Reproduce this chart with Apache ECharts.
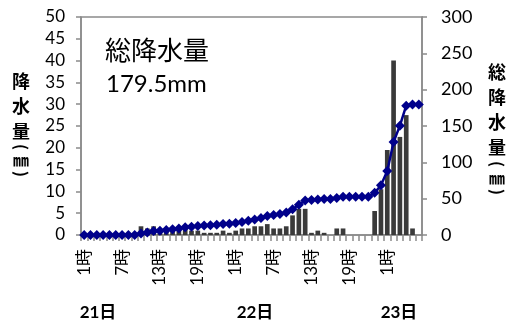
<!DOCTYPE html>
<html>
<head>
<meta charset="utf-8">
<script src="https://cdn.jsdelivr.net/npm/echarts/dist/echarts.min.js"></script>
<style>
  html, body { margin: 0; padding: 0; background: #fff; }
  #chart { width: 513px; height: 329px; }
</style>
</head>
<body>
<div id="chart"></div>
<script>
// Days shown on the time axis and how many hourly slots each one has
const days = ['21日', '22日', '23日'];
const hoursPerDay = [24, 24, 6];

// Hourly rainfall (mm), left axis
const hourlyRain = [
  0, 0, 0, 0, 0, 0, 0, 0, 0, 2.0, 1.5, 2.0, 0.5, 1.0, 1.0, 1.0, 1.5, 1.0, 1.0, 0.5, 0.5, 0.5, 1.0, 0.5,
  1.0, 1.5, 1.5, 2.0, 2.0, 2.5, 1.5, 1.5, 2.0, 4.5, 6.0, 6.0, 0.5, 1.0, 0.5, 0, 1.5, 1.5, 0, 0, 0, 0, 5.5, 10.5,
  19.5, 40.0, 22.5, 27.5, 1.5, 0
];

// Accumulated rainfall (mm), right axis
const totalRain = [
  0, 0, 0, 0, 0, 0, 0, 0, 0, 2.0, 3.5, 5.5, 6.0, 7.0, 8.0, 9.0, 10.5, 11.5, 12.5, 13.0, 13.5, 14.0, 15.0, 15.5,
  16.5, 18.0, 19.5, 21.5, 23.5, 26.0, 27.5, 29.0, 31.0, 35.5, 41.5, 47.5, 48.0, 49.0, 49.5, 49.5, 51.0, 52.5, 52.5, 52.5, 52.5, 52.5, 58.0, 68.5,
  88.0, 128.0, 150.5, 178.0, 179.5, 179.5
];

const leftTicks = [0, 5, 10, 15, 20, 25, 30, 35, 40, 45, 50];
const rightTicks = [0, 50, 100, 150, 200, 250, 300];

const totalLabel = '総降水量';
const totalValue = '179.5mm';

// Hour labels "1時" … for every slot
const hourLabels = [];
hoursPerDay.forEach(function (n) {
  for (let h = 1; h <= n; h++) hourLabels.push(h + '時');
});

const FONT = "Lato, 'Noto Sans CJK JP', sans-serif";
const JP = "'Noto Sans CJK JP', sans-serif";
const AXIS_GREY = '#8a8a8a';

const chart = echarts.init(document.getElementById('chart'), null, { renderer: 'canvas' });

// Vertical axis titles, one glyph per element
function verticalTitle(x, items) {
  return items.map(function (it) {
    return {
      type: 'text',
      x: x,
      y: it.y,
      rotation: it.rot || 0,
      style: {
        text: it.t,
        font: 'bold ' + (it.size || 18) + 'px ' + JP,
        fill: '#000',
        align: 'center',
        verticalAlign: 'middle'
      }
    };
  });
}

const leftTitle = verticalTitle(21, [
  { t: '降', y: 81 },
  { t: '水', y: 106 },
  { t: '量', y: 131 },
  { t: '(', y: 147, rot: -Math.PI / 2, size: 16 },
  { t: '㎜', y: 160, size: 16 },
  { t: ')', y: 174, rot: -Math.PI / 2, size: 16 }
]);

const rightTitle = verticalTitle(497, [
  { t: '総', y: 72 },
  { t: '降', y: 97 },
  { t: '水', y: 122 },
  { t: '量', y: 147 },
  { t: '(', y: 164, rot: -Math.PI / 2, size: 16 },
  { t: '㎜', y: 178, size: 16 },
  { t: ')', y: 192, rot: -Math.PI / 2, size: 16 }
]);

const dayX = [98, 255, 399];
const dayLabels = days.map(function (d, i) {
  return {
    type: 'text',
    x: dayX[i],
    y: 313,
    style: {
      text: d,
      font: 'bold 17px ' + FONT,
      fill: '#000',
      align: 'center',
      verticalAlign: 'middle'
    }
  };
});

const option = {
  animation: false,
  backgroundColor: '#fff',
  grid: {
    left: 81,
    right: 91,
    top: 17,
    bottom: 94,
    show: true,
    borderColor: AXIS_GREY,
    borderWidth: 1.5,
    containLabel: false
  },
  xAxis: {
    type: 'category',
    data: hourLabels,
    boundaryGap: true,
    axisLine: { show: true, lineStyle: { color: AXIS_GREY, width: 1.5 } },
    axisTick: { show: true, interval: 0, length: 6, lineStyle: { color: AXIS_GREY, width: 1.5 } },
    axisLabel: {
      interval: 5,
      rotate: 90,
      margin: 14,
      color: '#000',
      fontSize: 17,
      fontFamily: FONT,
      hideOverlap: false
    },
    splitLine: { show: false }
  },
  yAxis: [
    {
      type: 'value',
      min: leftTicks[0],
      max: leftTicks[leftTicks.length - 1],
      interval: leftTicks[1] - leftTicks[0],
      axisLine: { show: true, lineStyle: { color: AXIS_GREY, width: 1.5 } },
      axisTick: { show: true, length: 5, lineStyle: { color: AXIS_GREY, width: 1.5 } },
      axisLabel: { margin: 16, color: '#000', fontSize: 17, fontFamily: FONT },
      splitLine: { show: false }
    },
    {
      type: 'value',
      position: 'right',
      min: rightTicks[0],
      max: rightTicks[rightTicks.length - 1],
      interval: rightTicks[1] - rightTicks[0],
      axisLine: { show: true, lineStyle: { color: AXIS_GREY, width: 1.5 } },
      axisTick: { show: true, length: 5, lineStyle: { color: AXIS_GREY, width: 1.5 } },
      axisLabel: { margin: 19, color: '#000', fontSize: 18, fontFamily: FONT },
      splitLine: { show: false }
    }
  ],
  series: [
    {
      name: '降水量',
      type: 'bar',
      yAxisIndex: 0,
      data: hourlyRain,
      barCategoryGap: '26%',
      itemStyle: { color: '#3a3a3a' },
      z: 2
    },
    {
      name: '総降水量',
      type: 'line',
      yAxisIndex: 1,
      data: totalRain,
      smooth: false,
      symbol: 'diamond',
      symbolSize: 10,
      showSymbol: true,
      showAllSymbol: true,
      lineStyle: { color: '#00008b', width: 2.5 },
      itemStyle: { color: '#00008b' },
      z: 3
    }
  ],
  graphic: [
    {
      type: 'text',
      x: 105,
      y: 50,
      style: {
        text: totalLabel,
        font: '26px ' + JP,
        fill: '#000',
        align: 'left',
        verticalAlign: 'middle'
      }
    },
    {
      type: 'text',
      x: 106,
      y: 84,
      style: {
        text: totalValue,
        font: '24px ' + FONT,
        fill: '#000',
        align: 'left',
        verticalAlign: 'middle'
      }
    }
  ].concat(leftTitle, rightTitle, dayLabels)
};

chart.setOption(option);
</script>
</body>
</html>
